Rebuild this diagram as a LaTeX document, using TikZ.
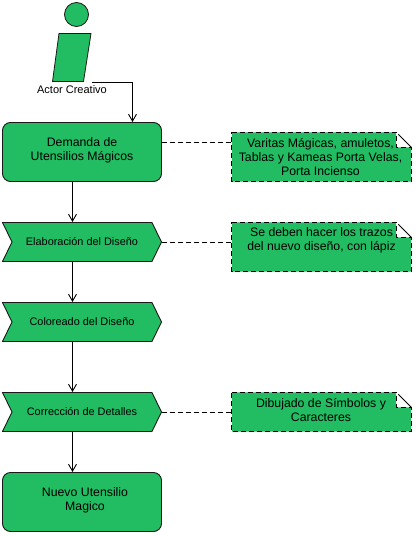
\documentclass[tikz,border=0pt]{standalone}
\usepackage{fontspec}
\setmainfont{Liberation Sans}
\usepackage{xcolor}
\usetikzlibrary{arrows.meta,shapes.symbols}
\definecolor{verde}{HTML}{22BD63}
\tikzset{%
    evento/.style={%
        draw=black!90, fill=verde, rounded corners=8pt, line width=0.9pt,
        minimum width=159pt, minimum height=59pt
    },
    funcion/.style={%
        shape=signal, signal to=east, signal from=west, signal pointer angle=128,
        draw=black!90, fill=verde, line width=0.9pt, inner sep=0pt,
        minimum width=159pt, minimum height=39pt, font=\fontsize{10.9}{13}\selectfont
    },
    nota/.style={inner sep=0pt, minimum width=179pt},
    rotulo/.style={inner sep=0pt, align=center, font=\fontsize{12.3}{14}\selectfont},
    flecha/.style={->,>={Straight Barb[length=7pt,width=8pt]},line width=0.9pt},
    traza/.style={line width=0.9pt,dash pattern=on 5pt off 3pt}
}
\begin{document}
\begin{tikzpicture}[x=1pt,y=-1pt]
    \useasboundingbox (0,0) rectangle (416,536);
    % actor
    \node[circle,draw=black!90,fill=verde,line width=0.8pt,minimum size=24pt,inner sep=0pt] (cabeza) at (76.5,14.5) {};
    \draw[draw=black!90,fill=verde,line width=0.8pt] (59,33.5)--(91,33.5)--(83.5,81.5)--(52.5,81.5)--cycle;
    \node[font=\fontsize{11}{13}\selectfont,inner sep=0pt] (actor) at (72,90) {Actor Creativo};
    \coordinate (salida) at (92,82.5);
    % flujo
    \node[evento] (demanda) at (82,152) {};
    \node[rotulo] (textodemanda) at (82,150) {Demanda de\\Utensilios Mágicos};
    \node[funcion] (elaboracion) at (82,242) {Elaboración del Diseño};
    \node[funcion] (coloreado) at (82,322) {Coloreado del Diseño};
    \node[funcion] (correccion) at (82,412) {Corrección de Detalles};
    \node[evento] (nuevo) at (82,502) {};
    \node[rotulo] (textonuevo) at (85,500) {Nuevo Utensilio\\Magico};
    % notas
    \foreach \nombre/\cy/\alto in {varitas/157/49,trazos/247/49,simbolos/412/39}
    {
    \path (321.5,\cy) node[nota,minimum height=\alto pt] (\nombre) {};
    \fill[verde] (\nombre.north west) -- ([xshift=-15pt]\nombre.north east) -- ([xshift=-15pt,yshift=-15pt]\nombre.north east) -- ([yshift=-15pt]\nombre.north east) -- (\nombre.south east) -- (\nombre.south west) -- cycle;
    \draw[traza] (\nombre.north west) -- ([xshift=-15pt]\nombre.north east) -- ([xshift=-15pt,yshift=-15pt]\nombre.north east) -- ([yshift=-15pt]\nombre.north east) -- (\nombre.south east) -- (\nombre.south west) -- cycle;
    \draw[line width=0.9pt] ([xshift=-13pt,yshift=-2pt]\nombre.north east) -- ([yshift=-15pt]\nombre.north east);
    }
    \node[rotulo] (textovaritas) at (320.5,157) {Varitas Mágicas, amuletos,\\Tablas y Kameas Porta Velas,\\Porta Incienso};
    \node[rotulo] (textotrazos) at (321.5,240) {Se deben hacer los trazos\\del nuevo diseño, con lápiz};
    \node[rotulo] (textosimbolos) at (321,410) {Dibujado de Símbolos y\\Caracteres};
    % conectores
    \draw[flecha] (salida) -| (demanda.north -| 132.5,0);
    \draw[flecha] (demanda.south -| 72.5,0) -- (elaboracion.north -| 72.5,0);
    \draw[flecha] (elaboracion.south -| 72.5,0) -- (coloreado.north -| 72.5,0);
    \draw[flecha] (coloreado.south -| 72.5,0) -- (correccion.north -| 72.5,0);
    \draw[flecha] (correccion.south -| 72.5,0) -- (nuevo.north -| 72.5,0);
    \draw[traza] (demanda.east |- 0,142.5) -- (varitas.west |- 0,142.5);
    \draw[traza] (elaboracion.east) -- (trazos.west |- elaboracion.east);
    \draw[traza] (correccion.east) -- (simbolos.west);
\end{tikzpicture}
\end{document}
